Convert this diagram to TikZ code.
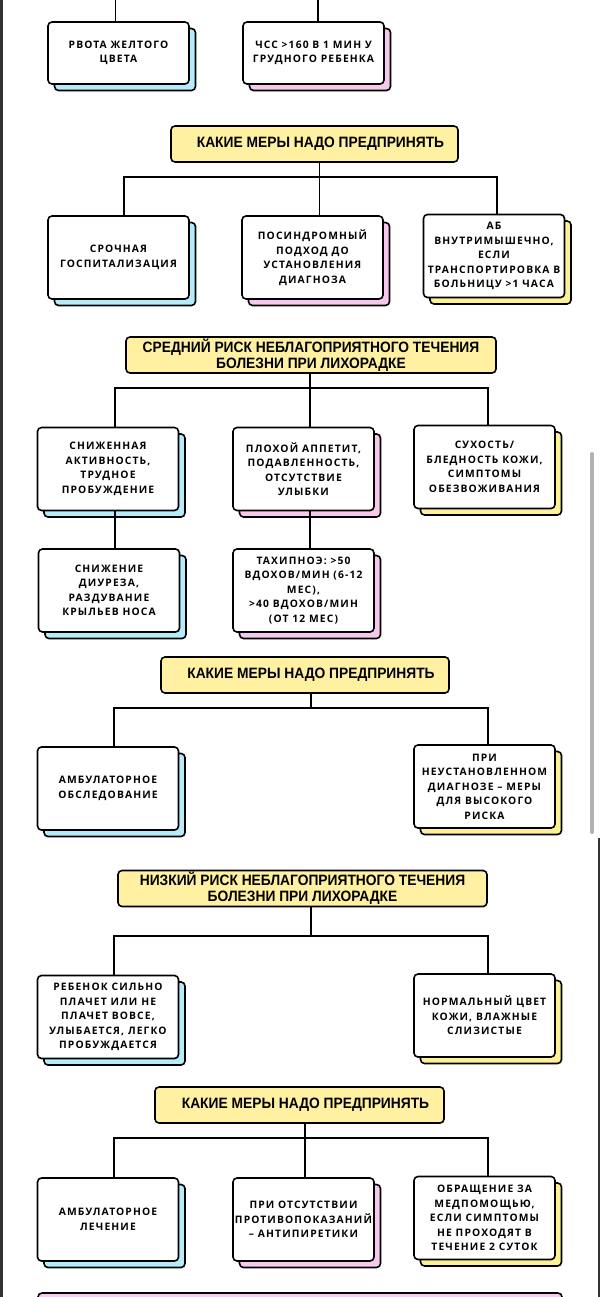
\documentclass[tikz,border=0pt]{standalone}
\usepackage{fontspec}
\usepackage{tikz}
\usetikzlibrary{shadows}
\usetikzlibrary{positioning}

\newfontfamily\headfont{Liberation Sans}[FakeStretch=0.92]
\newfontfamily\boxfont{Open Sans}[LetterSpace=11]

\definecolor{hdryellow}{HTML}{FFF1A1}
\definecolor{shblue}{HTML}{B6ECFA}
\definecolor{shpink}{HTML}{F6C8EC}
\definecolor{shyellow}{HTML}{FDF096}
\definecolor{barpink}{HTML}{F8CCEE}

\tikzset{
	head/.style={draw=black, line width=1.6pt, fill=hdryellow, rounded corners=4pt,
		minimum height=36pt, inner sep=0pt, align=center,
		font=\headfont\bfseries\fontsize{15}{16}\selectfont},
	card/.style={draw=black, line width=1.6pt, fill=white, rounded corners=4pt,
		minimum width=141pt, minimum height=83pt, inner sep=0pt, align=center,
		font=\boxfont\bfseries\fontsize{10.3}{14.5}\selectfont},
	cardblue/.style={card, copy shadow={shadow xshift=6.5pt, shadow yshift=-6.5pt, fill=shblue, draw=black, line width=1.6pt}},
	cardpink/.style={card, copy shadow={shadow xshift=6.5pt, shadow yshift=-6.5pt, fill=shpink, draw=black, line width=1.6pt}},
	cardyellow/.style={card, copy shadow={shadow xshift=6.5pt, shadow yshift=-6.5pt, fill=shyellow, draw=black, line width=1.6pt}},
	link/.style={draw=black, line width=1.8pt}
}

\begin{document}
\begin{tikzpicture}[x=1pt,y=-1pt]
		\useasboundingbox (0,0) rectangle (600,1297);
		\fill[white] (0,0) rectangle (600,1297);
		% frame of the page
		\fill[black!80] (0,0) rectangle (2.5,1297);
		\fill[black!80] (597.5,838) rectangle (600,1297);
		\draw[black!30, line width=4pt, line cap=round] (592,454) -- (592,832);

		% high risk (end)
		\node[cardblue, minimum height=62pt] (A1) at (118.5,53) {РВОТА ЖЕЛТОГО\\ЦВЕТА};
		\node[cardpink, minimum height=62pt] (A2) at (313.5,53) {ЧСС >160 В 1 МИН У\\ГРУДНОГО РЕБЕНКА};
		\draw[link] ([xshift=-3pt]A1.north) -- ++(0,-22);
		\draw[link] ([xshift=4.5pt]A2.north) -- ++(0,-22);

		\node[head, minimum width=287pt] (H1) at (314.5,144) {\hspace{12pt}КАКИЕ МЕРЫ НАДО ПРЕДПРИНЯТЬ};
		\node[cardblue] (B1) at (118.5,257.5) {СРОЧНАЯ\\ГОСПИТАЛИЗАЦИЯ};
		\node[cardpink] (B2) at (312.5,257.5) {ПОСИНДРОМНЫЙ\\ПОДХОД ДО\\УСТАНОВЛЕНИЯ\\ДИАГНОЗА};
		\node[cardyellow] (B3) at (494,256) {АБ\\ВНУТРИМЫШЕЧНО,\\ЕСЛИ\\ТРАНСПОРТИРОВКА В\\БОЛЬНИЦУ >1 ЧАСА};
		\draw[link] ([xshift=5pt]H1.south) -- ++(0,14) coordinate (j1) -| ([xshift=5.5pt]B1.north);
		\draw[link] (j1) -| ([xshift=3pt]B3.north);
		\draw[link] (j1) -- ([xshift=7pt]B2.north);

		% middle risk
		\node[head, minimum width=370pt] (H2) at (311,355) {СРЕДНИЙ РИСК НЕБЛАГОПРИЯТНОГО ТЕЧЕНИЯ\\БОЛЕЗНИ ПРИ ЛИХОРАДКЕ};
		\node[cardblue] (C1) at (108,469) {СНИЖЕННАЯ\\АКТИВНОСТЬ,\\ТРУДНОЕ\\ПРОБУЖДЕНИЕ};
		\node[cardpink] (C2) at (303.5,469) {ПЛОХОЙ АППЕТИТ,\\ПОДАВЛЕННОСТЬ,\\ОТСУТСТВИЕ\\УЛЫБКИ};
		\node[cardyellow] (C3) at (484.5,467) {СУХОСТЬ/\\БЛЕДНОСТЬ КОЖИ,\\СИМПТОМЫ\\ОБЕЗВОЖИВАНИЯ};
		\node[cardblue] (D1) at (109,590.5) {СНИЖЕНИЕ\\ДИУРЕЗА,\\РАЗДУВАНИЕ\\КРЫЛЬЕВ НОСА};
		\node[cardpink] (D2) at (303.5,590.5) {ТАХИПНОЭ: >50\\ВДОХОВ/МИН (6-12\\МЕС),\\>40 ВДОХОВ/МИН\\(ОТ 12 МЕС)};
		\draw[link] ([xshift=-1pt]H2.south) -- ++(0,14) coordinate (j2) -| ([xshift=7pt]C1.north);
		\draw[link] (j2) -| ([xshift=3.5pt]C3.north);
		\draw[link] (j2) -| ([xshift=6.5pt]C2.north);
		\draw[link] ([xshift=7pt]C1.south) -- ([xshift=6pt]D1.north);
		\draw[link] ([xshift=6.5pt]C2.south) -- ([xshift=6.5pt]D2.north);

		\node[head, minimum width=288pt] (H3) at (305,675) {\hspace{12pt}КАКИЕ МЕРЫ НАДО ПРЕДПРИНЯТЬ};
		\node[cardblue] (E1) at (108,788.5) {АМБУЛАТОРНОЕ\\ОБСЛЕДОВАНИЕ};
		\node[cardyellow] (E2) at (484.5,786.5) {ПРИ\\НЕУСТАНОВЛЕННОМ\\ДИАГНОЗЕ – МЕРЫ\\ДЛЯ ВЫСОКОГО\\РИСКА};
		\draw[link] ([xshift=6pt]H3.south) -- ++(0,14) coordinate (j3) -| ([xshift=6pt]E1.north);
		\draw[link] (j3) -| ([xshift=3.5pt]E2.north);

		% low risk
		\node[head, minimum width=369pt] (H4) at (302.5,888.5) {НИЗКИЙ РИСК НЕБЛАГОПРИЯТНОГО ТЕЧЕНИЯ\\БОЛЕЗНИ ПРИ ЛИХОРАДКЕ};
		\node[cardblue] (F1) at (108,1017) {РЕБЕНОК СИЛЬНО\\ПЛАЧЕТ ИЛИ НЕ\\ПЛАЧЕТ ВОВСЕ,\\УЛЫБАЕТСЯ, ЛЕГКО\\ПРОБУЖДАЕТСЯ};
		\node[cardyellow] (F2) at (484.5,1015.5) {НОРМАЛЬНЫЙ ЦВЕТ\\КОЖИ, ВЛАЖНЫЕ\\СЛИЗИСТЫЕ};
		\draw[link] ([xshift=8.5pt]H4.south) -- ++(0,29) coordinate (j4) -| ([xshift=6pt]F1.north);
		\draw[link] (j4) -| ([xshift=3.5pt]F2.north);

		\node[head, minimum width=289pt] (H5) at (299.5,1105) {\hspace{12pt}КАКИЕ МЕРЫ НАДО ПРЕДПРИНЯТЬ};
		\node[cardblue] (G1) at (108,1219.5) {АМБУЛАТОРНОЕ\\ЛЕЧЕНИЕ};
		\node[cardpink] (G2) at (303.5,1219.5) {ПРИ ОТСУТСТВИИ\\ПРОТИВОПОКАЗАНИЙ\\– АНТИПИРЕТИКИ};
		\node[cardyellow] (G3) at (484.5,1218) {ОБРАЩЕНИЕ ЗА\\МЕДПОМОЩЬЮ,\\ЕСЛИ СИМПТОМЫ\\НЕ ПРОХОДЯТ В\\ТЕЧЕНИЕ 2 СУТОК};
		\draw[link] ([xshift=5.5pt]H5.south) -- ++(0,14) coordinate (j5) -| ([xshift=6pt]G1.north);
		\draw[link] (j5) -| ([xshift=3.5pt]G3.north);
		\draw[link] (j5) -| ([xshift=1.5pt]G2.north);

		% next block, cut by the page
		\draw[line width=1.6pt, fill=barpink, rounded corners=4pt] (38,1293) rectangle (562,1330);
\end{tikzpicture}
\end{document}
